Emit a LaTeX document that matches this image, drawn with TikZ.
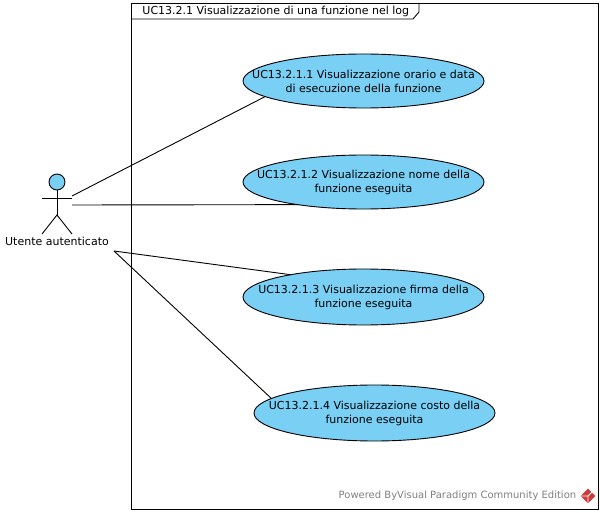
\documentclass[tikz,border=0pt]{standalone}
\usepackage{fontspec}
\setmainfont{DejaVu Sans}
\usetikzlibrary{shapes.geometric}
\definecolor{ucfill}{RGB}{122,207,245}
\definecolor{vpred}{RGB}{205,60,60}

\tikzset{
    usecase/.style={draw, ellipse, fill=ucfill, minimum width=241pt, minimum height=54pt,
        inner sep=0pt, inner xsep=-30pt, outer sep=0pt, align=center},
    txt/.style={font=\fontsize{11}{14}\selectfont}
}

\begin{document}
\begin{tikzpicture}[x=1pt, y=-1pt, line width=0.9pt]
    \useasboundingbox (0, 0) rectangle (600, 513);

    % system frame
    \draw (131, 3) rectangle (598, 509);
    \draw (131, 19) -- (413, 19) -- (419, 12) -- (419, 3);
    \node[txt, anchor=west] (frametitle) at (138.7, 11) {UC13.2.1 Visualizzazione di una funzione nel log};

    % actor
    \node[draw, circle, fill=ucfill, minimum size=16pt, inner sep=0pt, outer sep=0pt] (head) at (57, 182) {};
    \coordinate (hip) at (57, 215);
    \coordinate (armL) at (42, 198);
    \coordinate (armR) at (72, 198);
    \coordinate (footL) at (42, 234);
    \coordinate (footR) at (72, 234);
    \draw (head) -- (hip);
    \draw (armL) -- (armR);
    \draw (footL) -- (hip) -- (footR);
    \node[txt] (actor) at (57, 241) {Utente autenticato};

    % use cases
    \node[usecase, txt] (ucA) at (363.5, 81) {UC13.2.1.1 Visualizzazione orario e data\\di esecuzione della funzione};
    \node[usecase, txt] (ucB) at (363.5, 182) {UC13.2.1.2 Visualizzazione nome della\\funzione eseguita};
    \node[usecase, txt, minimum height=56pt] (ucC) at (363.5, 297) {UC13.2.1.3 Visualizzazione firma della\\funzione eseguita};
    \node[usecase, txt, minimum height=56pt] (ucD) at (374.5, 413) {UC13.2.1.4 Visualizzazione costo della\\funzione eseguita};

    % associations
    \coordinate (actA) at (72, 196);
    \coordinate (actB) at (72, 205);
    \coordinate (actC) at (114, 251);
    \draw (actA) -- (ucA.189.4);
    \draw (actB) -- (ucB.199);
    \draw (actC) -- (ucC.163.5);
    \draw (actC) -- (ucD.172.3);

    % watermark
    \node[font=\fontsize{10}{12}\selectfont, text=gray, anchor=east] (mark) at (580, 496) {Powered ByVisual Paradigm Community Edition};
    \node[diamond, fill=vpred, minimum size=15pt, inner sep=0pt] (logo) at (588, 496) {};
    \draw[white, line width=0.8pt] (logo.west) -- (logo.center) -- (logo.north east) (logo.center) -- (logo.south);
\end{tikzpicture}
\end{document}
